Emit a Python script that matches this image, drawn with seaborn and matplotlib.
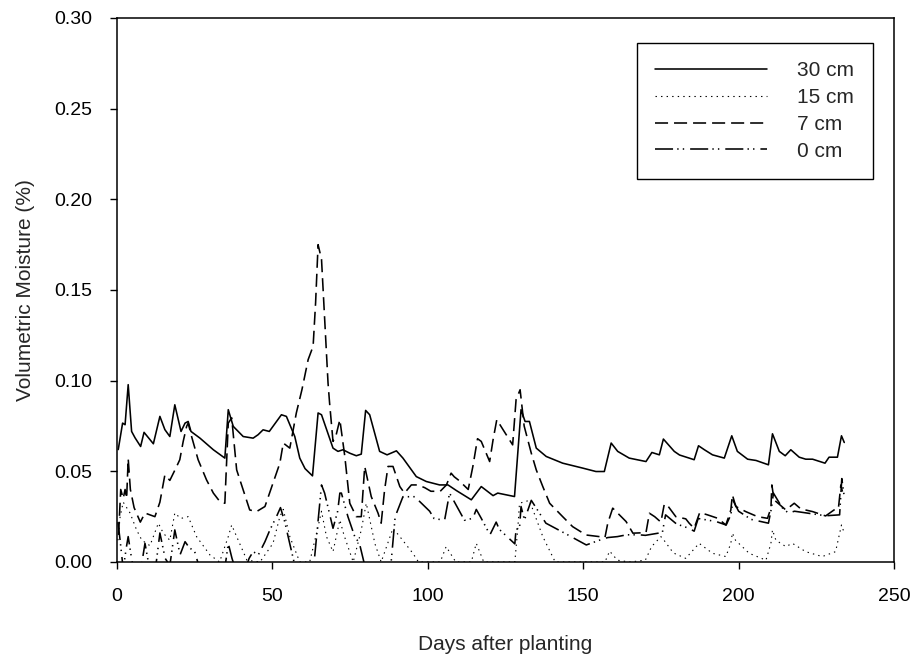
import matplotlib
matplotlib.use("Agg")
import matplotlib.pyplot as plt
import seaborn as sns
import numpy as np

# Volumetric soil moisture by sensor depth, (day after planting, moisture) pairs
depth_30cm = [
    (0.4, 0.062), (1.8, 0.0766), (2.6, 0.0757), (3.6, 0.0978), (4.7, 0.072), (5.8, 0.0685),
    (7.6, 0.0637), (8.7, 0.0715), (11.7, 0.0652), (13.8, 0.0803), (15.4, 0.073), (17.0, 0.0692),
    (18.6, 0.0867), (20.6, 0.072), (21.9, 0.0766), (22.9, 0.0775), (23.8, 0.072), (26.7, 0.0683),
    (31.0, 0.0619), (34.7, 0.0573), (35.8, 0.084), (37.4, 0.0748), (40.6, 0.0692), (43.8, 0.0683),
    (45.4, 0.0702), (47.0, 0.0729), (49.0, 0.072), (52.9, 0.0812), (54.5, 0.0803), (57.2, 0.0692),
    (58.8, 0.0573), (60.5, 0.0515), (62.9, 0.0475), (64.7, 0.0822), (65.8, 0.0812), (69.5, 0.0628),
    (71.1, 0.061), (72.7, 0.0619), (74.9, 0.060), (77.0, 0.0586), (78.6, 0.0595), (80.0, 0.0836),
    (81.3, 0.0812), (84.5, 0.061), (86.9, 0.0591), (89.9, 0.0613), (92.0, 0.0573), (96.3, 0.0471),
    (99.5, 0.0444), (103.8, 0.0425), (106.5, 0.0425), (109.2, 0.0394), (114.0, 0.0343), (117.2, 0.0416),
    (121.0, 0.0366), (122.5, 0.038), (127.9, 0.0361), (130.0, 0.084), (131.3, 0.0775), (132.7, 0.0775),
    (134.9, 0.0628), (138.1, 0.0582), (143.4, 0.0545), (149.8, 0.0518), (154.1, 0.0499), (156.8, 0.0499),
    (159.0, 0.0656), (161.1, 0.061), (164.8, 0.0573), (170.2, 0.0554), (172.1, 0.0604), (174.5, 0.0591),
    (175.8, 0.0678), (179.3, 0.061), (181.0, 0.059), (184.1, 0.0573), (185.7, 0.0564), (187.1, 0.0641),
    (189.0, 0.0619), (191.6, 0.0591), (195.4, 0.0573), (197.8, 0.0696), (199.6, 0.061), (202.9, 0.0567),
    (205.6, 0.056), (209.6, 0.0536), (210.9, 0.0707), (213.1, 0.061), (215.0, 0.0586), (216.8, 0.0619),
    (219.5, 0.0578), (221.6, 0.0567), (223.8, 0.0567), (227.8, 0.0545), (229.1, 0.0578), (231.8, 0.0578),
    (233.1, 0.0696), (234.0, 0.0659),
]

depth_15cm = [
    (0.3, 0.012), (1.0, 0.025), (2.0, 0.033), (4.2, 0.027), (6.3, 0.0177), (8.0, 0.012),
    (10.6, 0.009), (13.3, 0.0214), (14.9, 0.0159), (17.0, 0.012), (18.6, 0.027), (20.5, 0.024),
    (22.9, 0.025), (25.6, 0.014), (29.9, 0.0039), (33.0, 0.0), (35.8, 0.014), (36.9, 0.0204),
    (38.5, 0.014), (41.8, 0.001), (46.0, 0.0), (50.2, 0.0103), (52.4, 0.025), (53.5, 0.029),
    (55.6, 0.014), (58.8, 0.0), (62.0, 0.0), (64.7, 0.0195), (65.8, 0.028), (67.4, 0.014),
    (69.5, 0.0057), (71.7, 0.0232), (73.0, 0.015), (76.0, 0.0), (78.6, 0.0177), (80.2, 0.0324),
    (83.0, 0.01), (85.0, 0.0), (88.8, 0.0186), (91.0, 0.014), (95.2, 0.0048), (97.0, 0.0),
    (104.0, 0.0), (105.9, 0.0085), (109.0, 0.0), (114.0, 0.0), (115.6, 0.0103), (118.0, 0.0),
    (128.0, 0.0), (129.0, 0.0195), (129.5, 0.0324), (132.7, 0.034), (137.0, 0.014), (141.0, 0.0),
    (157.0, 0.0), (158.5, 0.006), (161.0, 0.001), (165.0, 0.0), (170.0, 0.001), (172.0, 0.0085),
    (175.0, 0.014), (176.0, 0.012), (179.0, 0.005), (183.0, 0.002), (187.3, 0.0103), (191.6, 0.0048),
    (195.9, 0.003), (197.5, 0.0103), (198.0, 0.016), (199.0, 0.012), (203.4, 0.0048), (208.8, 0.001),
    (210.4, 0.0103), (210.9, 0.0177), (212.0, 0.012), (215.2, 0.0085), (217.3, 0.0103), (221.6, 0.0057),
    (226.9, 0.003), (231.2, 0.0057), (233.1, 0.0204), (234.0, 0.016),
]

depth_7cm = [
    (0.5, 0.015), (1.2, 0.04), (2.0, 0.035), (2.6, 0.04), (3.1, 0.035), (3.6, 0.057),
    (4.3, 0.04), (5.5, 0.03), (7.5, 0.022), (9.0, 0.027), (12.2, 0.025), (13.8, 0.033),
    (15.4, 0.048), (17.0, 0.045), (19.2, 0.0527), (20.2, 0.0564), (21.3, 0.0665), (22.4, 0.0748),
    (22.9, 0.0766), (24.0, 0.0692), (26.1, 0.0564), (28.8, 0.0453), (31.0, 0.038), (33.1, 0.0333),
    (34.7, 0.0324), (35.8, 0.0766), (36.9, 0.0795), (38.5, 0.0508), (40.6, 0.0398), (42.7, 0.0287),
    (44.9, 0.0278), (47.6, 0.0306), (50.2, 0.0435), (52.4, 0.0545), (53.5, 0.0656), (55.6, 0.0628),
    (57.7, 0.0822), (59.5, 0.095), (61.5, 0.1116), (63.1, 0.119), (63.9, 0.143), (64.7, 0.175),
    (65.8, 0.167), (66.8, 0.134), (67.9, 0.0987), (68.4, 0.0877), (69.5, 0.0665), (70.5, 0.070),
    (71.7, 0.0785), (73.3, 0.0582), (74.9, 0.0324), (77.0, 0.025), (78.6, 0.025), (79.7, 0.0527),
    (81.8, 0.0361), (84.0, 0.0269), (85.0, 0.0214), (86.1, 0.0398), (87.2, 0.0527), (88.8, 0.0527),
    (91.0, 0.0416), (92.5, 0.038), (94.7, 0.0425), (96.8, 0.0425), (99.0, 0.041), (101.0, 0.039),
    (104.0, 0.039), (106.0, 0.0425), (107.5, 0.049), (108.5, 0.047), (110.0, 0.045), (113.0, 0.040),
    (114.5, 0.0527), (116.0, 0.068), (117.2, 0.0665), (119.9, 0.0554), (121.0, 0.0674), (122.2, 0.0785),
    (124.2, 0.073), (127.3, 0.0646), (128.4, 0.0895), (129.7, 0.095), (131.0, 0.075), (133.3, 0.060),
    (134.9, 0.0508), (137.0, 0.0416), (139.2, 0.0324), (143.4, 0.025), (146.6, 0.0195), (150.9, 0.0149),
    (155.2, 0.014), (157.0, 0.0135), (157.9, 0.0214), (159.5, 0.0297), (163.8, 0.0223), (166.0, 0.0159),
    (170.2, 0.0162), (171.3, 0.0269), (173.0, 0.025), (175.0, 0.022), (176.1, 0.032), (177.2, 0.031),
    (179.8, 0.025), (183.0, 0.0238), (184.1, 0.0214), (185.7, 0.0186), (187.5, 0.0273), (190.0, 0.026),
    (193.3, 0.0241), (195.9, 0.0204), (197.5, 0.0287), (198.0, 0.037), (199.1, 0.0306), (202.3, 0.0278),
    (206.1, 0.025), (209.3, 0.0241), (210.4, 0.0297), (210.7, 0.0425), (211.4, 0.0343), (215.2, 0.0287),
    (217.9, 0.0324), (220.0, 0.0293), (223.8, 0.0278), (228.0, 0.0254), (230.7, 0.0287), (232.1, 0.0293),
    (232.9, 0.0425), (233.4, 0.0388),
]

depth_0cm = [
    (0.3, 0.022), (1.0, 0.012), (2.0, -0.004), (3.0, 0.008), (3.6, 0.014), (4.5, 0.004),
    (5.5, -0.006), (7.5, -0.006), (9.0, 0.0103), (10.5, -0.004), (12.5, -0.002), (13.8, 0.016),
    (15.5, 0.002), (17.0, -0.002), (18.6, 0.0177), (20.3, 0.004), (21.9, 0.0112), (23.2, 0.008),
    (25.0, 0.0057), (27.0, -0.006), (34.5, -0.006), (35.8, 0.0103), (37.0, 0.002), (38.5, -0.006),
    (41.5, -0.003), (42.5, 0.002), (43.8, 0.0057), (45.5, 0.004), (47.6, 0.0112), (49.2, 0.0177),
    (51.3, 0.025), (52.6, 0.030), (54.0, 0.022), (55.6, 0.010), (57.5, -0.004), (62.5, -0.006),
    (63.6, 0.003), (65.8, 0.0425), (66.8, 0.038), (69.5, 0.0186), (71.0, 0.028), (71.7, 0.038),
    (72.2, 0.038), (74.3, 0.025), (76.5, 0.014), (78.0, 0.0103), (80.0, -0.004), (88.0, -0.004),
    (89.5, 0.025), (92.0, 0.036), (95.8, 0.036), (100.6, 0.028), (102.0, 0.024), (105.4, 0.023),
    (107.0, 0.038), (111.8, 0.023), (114.5, 0.0241), (115.6, 0.029), (117.2, 0.0241), (120.0, 0.015),
    (122.0, 0.022), (123.0, 0.018), (128.0, 0.010), (128.4, 0.018), (129.5, 0.0186), (130.0, 0.0306),
    (131.1, 0.0232), (133.3, 0.034), (138.0, 0.0214), (145.0, 0.015), (151.0, 0.0094), (156.8, 0.013),
    (158.0, 0.0135), (161.0, 0.014), (164.0, 0.015), (168.0, 0.015), (170.0, 0.0147), (174.5, 0.016),
    (175.5, 0.0165), (176.5, 0.026), (180.0, 0.021), (184.0, 0.0186), (185.7, 0.017), (187.0, 0.024),
    (192.8, 0.0223), (196.0, 0.0204), (197.5, 0.026), (198.2, 0.034), (200.0, 0.028), (204.0, 0.0235),
    (209.6, 0.0214), (210.6, 0.030), (211.2, 0.038), (214.0, 0.030), (216.0, 0.027), (218.0, 0.028),
    (222.0, 0.027), (228.0, 0.0255), (232.5, 0.026), (233.2, 0.046), (234.0, 0.036),
]

series_labels = ["30 cm", "15 cm", "7 cm", "0 cm"]
x_ticks = [0, 50, 100, 150, 200, 250]
y_ticks = [0.00, 0.05, 0.10, 0.15, 0.20, 0.25, 0.30]

sns.set_style("ticks")
plt.rcParams["font.family"] = ["Liberation Sans", "DejaVu Sans"]
plt.rcParams["lines.scale_dashes"] = False

fig = plt.figure(figsize=(9.16, 6.55), dpi=100)
ax = fig.add_axes([117 / 916, 1 - 562 / 655, (894 - 117) / 916, (562 - 18) / 655])

styles = [
    dict(linestyle="-", linewidth=1.15),
    dict(linestyle=(0, (1.0, 3.0)), linewidth=0.8),
    dict(linestyle=(0, (9.4, 4.3)), linewidth=1.15),
    dict(linestyle=(0, (13.0, 3.0, 1.0, 3.0, 1.0, 4.3)), linewidth=1.15),
]

for data, label, st in zip([depth_30cm, depth_15cm, depth_7cm, depth_0cm], series_labels, styles):
    arr = np.array(data)
    sns.lineplot(x=arr[:, 0], y=arr[:, 1], ax=ax, color="black", label=label,
                 estimator=None, errorbar=None, sort=False, **st)

ax.set_xlim(0, 250)
ax.set_ylim(0, 0.30)
ax.set_xticks(x_ticks)
ax.set_yticks(y_ticks)
ax.set_yticklabels([f"{v:.2f}" for v in y_ticks])
ax.tick_params(axis="both", direction="out", length=5, width=1.0, labelsize=14,
               color="black", labelcolor="black", pad=13)
ax.tick_params(axis="x", pad=14)
for sp in ax.spines.values():
    sp.set_visible(True)
    sp.set_color("black")
    sp.set_linewidth(1.1)

ax.set_xlabel("Days after planting", fontsize=15, labelpad=21)
ax.set_ylabel("Volumetric Moisture (%)", fontsize=15, labelpad=13.6)

leg = ax.legend(loc="upper right", bbox_to_anchor=(0.9726, 0.9546), borderaxespad=0,
                fontsize=15, handlelength=5.37, handletextpad=1.43,
                labelspacing=0.37, borderpad=0.9, frameon=True, fancybox=False,
                framealpha=1.0)
leg.get_frame().set_edgecolor("black")
leg.get_frame().set_linewidth(1.0)

fig.savefig("out.png", dpi=100)
